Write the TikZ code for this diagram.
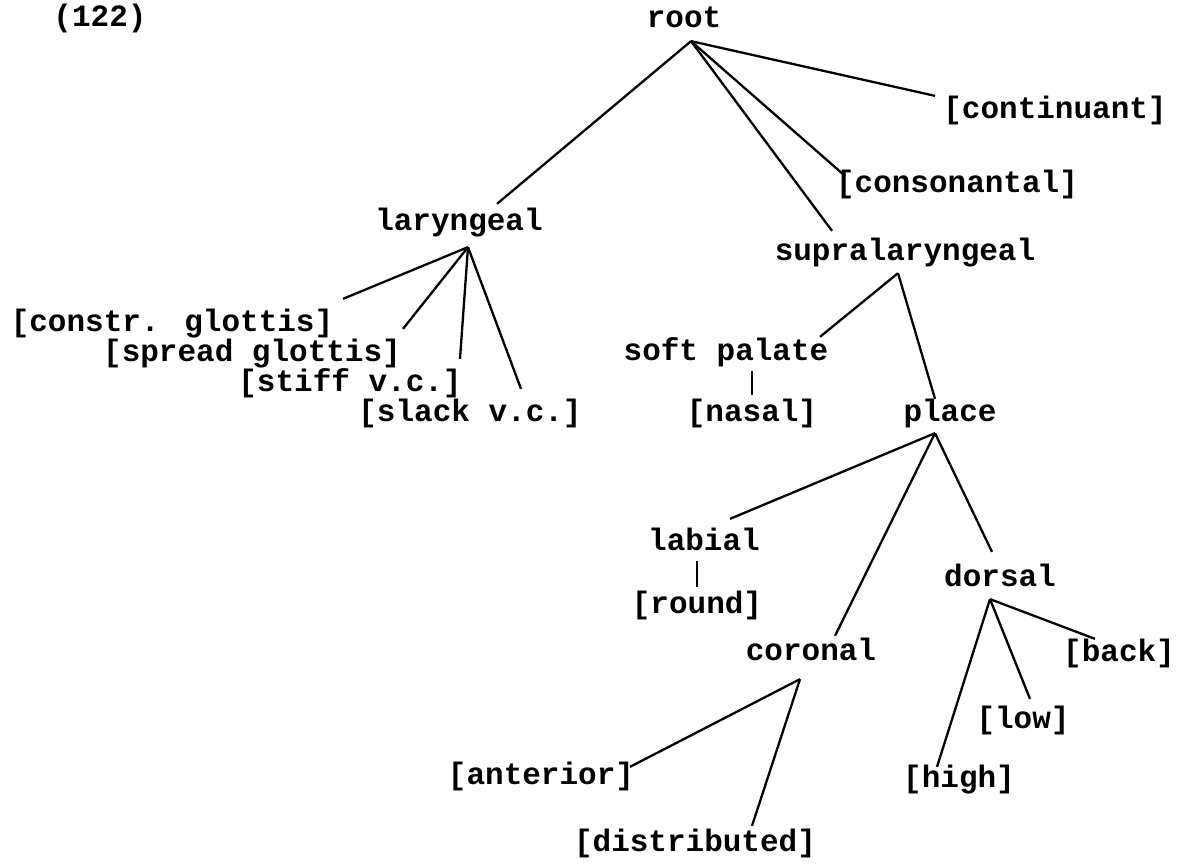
\documentclass[tikz,border=0pt]{standalone}
\usepackage{fontspec}
\newfontfamily\tyfont{Liberation Mono}
\begin{document}
\begin{tikzpicture}[x=1pt,y=-1pt,line width=2.3pt,
  every node/.style={font=\tyfont\bfseries\fontsize{31}{34}\selectfont,inner sep=3pt,anchor=base,text height=22pt,text depth=7pt}]
\useasboundingbox (0,0) rectangle (1186,864);
% example number and root
\node (num) at (100,27) {(122)};
\node (root) at (684,28) {root};
\node (cont) at (1055,119) {[continuant]};
\node (cons) at (957,193) {[consonantal]};
% laryngeal part
\node (lar) at (459,230) {laryngeal};
\node (cg) at (172,331) {[constr. glottis]};
\node (sg) at (252,361) {[spread glottis]};
\node (stiff) at (350,391) {[stiff v.c.]};
\node (slack) at (470,421) {[slack v.c.]};
% supralaryngeal part
\node (supra) at (905,260) {supralaryngeal};
\node (sp) at (726,360) {soft palate};
\node (nasal) at (752,421) {[nasal]};
\node (place) at (950,421) {place};
\node (labial) at (704,550) {labial};
\node (round) at (697,613) {[round]};
\node (dorsal) at (1000,586) {dorsal};
\node (coronal) at (811,660) {coronal};
\node (back) at (1119,661) {[back]};
\node (low) at (1023,728) {[low]};
\node (high) at (959,787) {[high]};
\node (ant) at (541,784) {[anterior]};
\node (dist) at (695,851) {[distributed]};
% root branches
\draw ([shift={(7,2)}]root.south) -- ([shift={(38,0)}]lar.north);
\draw ([shift={(7,2)}]root.south) -- ([shift={(-73,-3)}]supra.north);
\draw ([shift={(7,2)}]root.south) -- ([shift={(-112,9)}]cons.north);
\draw ([shift={(7,2)}]root.south) -- ([shift={(-120,3)}]cont.north);
% laryngeal features
\draw ([shift={(9,6)}]lar.south) -- ([shift={(171,-6)}]cg.north);
\draw ([shift={(9,6)}]lar.south) -- ([shift={(151,-6)}]sg.north);
\draw ([shift={(9,6)}]lar.south) -- ([shift={(110,-6)}]stiff.north);
\draw ([shift={(9,6)}]lar.south) -- ([shift={(51,-6)}]slack.north);
% supralaryngeal
\draw ([shift={(-7,2)}]supra.south) -- ([shift={(94,3)}]sp.north);
\draw ([shift={(-7,2)}]supra.south) -- ([shift={(-15,4)}]place.north);
\draw (nasal.north) -- (nasal.north |- sp.south);
% place
\draw ([shift={(-15,1)}]place.south) -- ([shift={(26,-5)}]labial.north);
\draw ([shift={(-15,1)}]place.south) -- ([shift={(24,2)}]coronal.north);
\draw ([shift={(-15,1)}]place.south) -- ([shift={(-8,-8)}]dorsal.north);
\draw (round.north) -- (round.north |- labial.south);
% dorsal and coronal features
\draw ([shift={(-10,2)}]dorsal.south) -- ([shift={(-22,6)}]high.north);
\draw ([shift={(-10,2)}]dorsal.south) -- ([shift={(7,-3)}]low.north);
\draw ([shift={(-10,2)}]dorsal.south) -- ([shift={(-24,4)}]back.north);
\draw ([shift={(-11,8)}]coronal.south) -- ([shift={(89,9)}]ant.north);
\draw ([shift={(-11,8)}]coronal.south) -- ([shift={(57,1)}]dist.north);
\end{tikzpicture}
\end{document}
